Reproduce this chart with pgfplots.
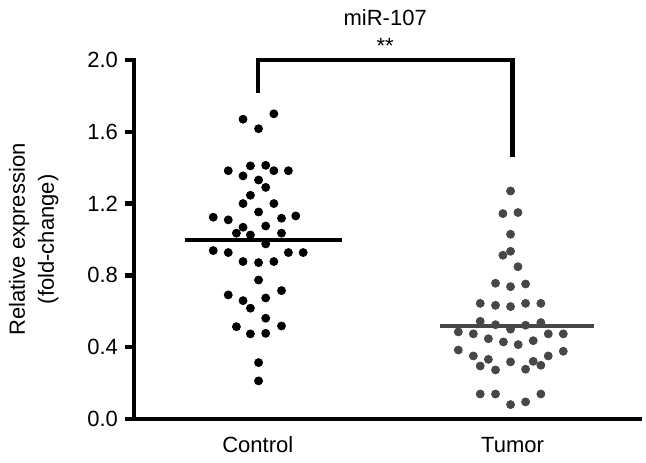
\documentclass[border=0pt]{standalone}
\usepackage{pgfplots}
\pgfplotsset{compat=1.18}
\usepackage{fontspec}
\setmainfont{Liberation Sans}
\definecolor{tumorgray}{HTML}{474747}
\begin{document}
\begin{tikzpicture}
\begin{axis}[
  scale only axis,
  width=253pt, height=179.5pt,
  xmin=0.514, xmax=2.5,
  ymin=0, ymax=2.0,
  axis x line=bottom, axis y line=left,
  axis line style={-, line width=2.2pt, line cap=rect},
  xtick={1,2}, xticklabels={Control,Tumor},
  x tick style={draw=none},
  ytick={0,0.4,0.8,1.2,1.6,2.0},
  y tick style={line width=2.2pt, black},
  tick align=outside, major tick length=4.5pt,
  yticklabel style={/pgf/number format/.cd, fixed, fixed zerofill, precision=1},
  /pgf/number format/assume math mode=true,
  tick label style={font=\fontsize{11}{13}\selectfont},
  xticklabel style={yshift=-1pt},
  ylabel={Relative expression\\(fold-change)},
  ylabel style={align=center, font=\fontsize{11}{14.5}\selectfont, at={(rel axis cs:-0.198,0.5)}, anchor=center},
  clip=false,
]
\addplot[only marks, mark=*, mark size=2pt, mark options={draw=black, fill=black}] coordinates {
(0.942,1.67) (1.063,1.70) (1.003,1.617)
(0.884,1.383) (0.942,1.354) (0.971,1.41) (1.031,1.413) (1.063,1.383) (1.120,1.383)
(1.003,1.331) (1.031,1.29) (0.971,1.246) (0.942,1.20) (1.063,1.20) (1.003,1.153)
(0.825,1.124) (0.884,1.109) (1.149,1.131) (1.093,1.118) (0.942,1.068) (1.031,1.075)
(0.916,1.035) (0.971,1.025) (1.093,1.035) (1.031,0.975)
(0.825,0.938) (0.884,0.927) (1.120,0.927) (1.178,0.927)
(0.942,0.877) (1.003,0.871) (1.063,0.877) (1.003,0.774)
(0.884,0.691) (1.093,0.715) (0.942,0.659) (1.031,0.674) (0.971,0.617)
(1.031,0.561) (0.916,0.514) (1.093,0.518) (0.971,0.474) (1.031,0.477)
(1.003,0.314) (1.003,0.212)
};
\addplot[only marks, mark=*, mark size=2pt, mark options={draw=tumorgray, fill=tumorgray}] coordinates {
(1.992,1.27) (1.962,1.144) (2.021,1.15) (1.992,1.029) (1.962,0.912) (1.992,0.934)
(2.021,0.848) (1.933,0.756) (1.992,0.737) (2.051,0.752)
(1.873,0.644) (1.933,0.633) (1.992,0.626) (2.051,0.644) (2.111,0.644)
(1.873,0.544) (1.933,0.525) (1.992,0.50) (2.051,0.522) (2.111,0.537)
(1.787,0.485) (1.846,0.474) (1.905,0.447) (1.964,0.429) (2.022,0.414) (2.081,0.436) (2.140,0.474) (2.199,0.474)
(1.787,0.384) (1.846,0.351) (1.905,0.332) (1.873,0.295) (1.933,0.273) (1.992,0.318)
(2.051,0.277) (2.081,0.321) (2.111,0.299) (2.140,0.351) (2.199,0.377)
(1.873,0.139) (1.933,0.139) (1.992,0.08) (2.051,0.095) (2.111,0.139)
};
\addplot[black, line width=2.2pt] coordinates {(0.714,0.997) (1.329,0.997)};
\addplot[tumorgray, line width=2.2pt] coordinates {(1.714,0.518) (2.318,0.518)};
\draw[line width=2.2pt] (axis cs:1,1.816) -- (axis cs:1,2.0) -- (axis cs:2,2.0) -- (axis cs:2,1.46);
\node[font=\fontsize{11}{13}\selectfont] at (axis cs:1.5,2.08) {**};
\node[font=\fontsize{11}{13}\selectfont] at (axis cs:1.5,2.234) {miR-107};
\path (rel axis cs:-0.2648,-0.1226) rectangle (rel axis cs:1.0119,1.167);
\end{axis}
\end{tikzpicture}
\end{document}
